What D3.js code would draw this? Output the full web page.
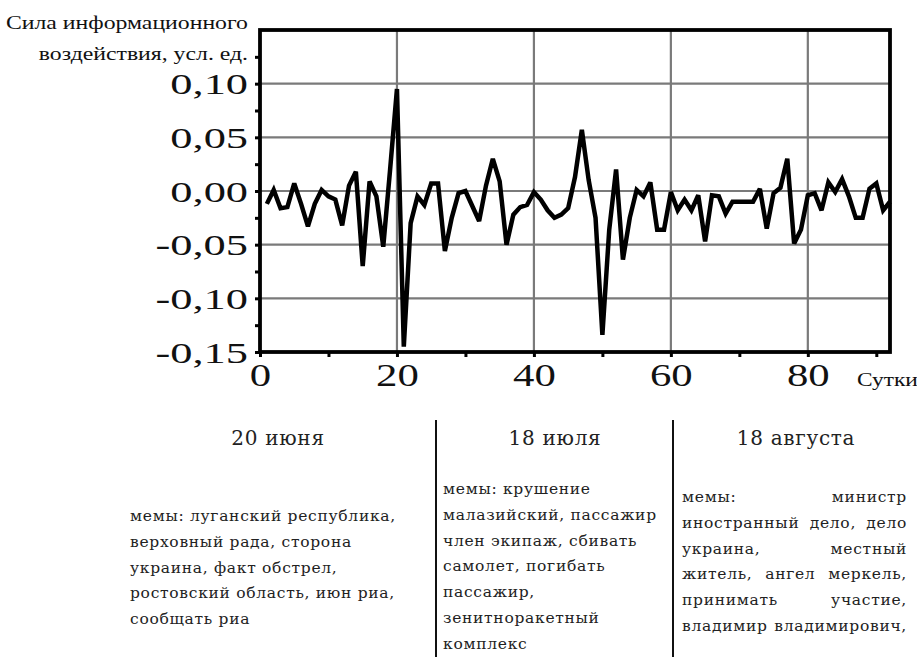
<!DOCTYPE html>
<html>
<head>
<meta charset="utf-8">
<script src="https://cdn.jsdelivr.net/npm/d3@7"></script>
<style>
body { margin: 0; background: #fff; }
svg { display: block; }
.lbl { font-family: "Liberation Serif", "Times New Roman", serif; fill: #111; }
.note { font-family: "DejaVu Serif", serif; fill: #222; letter-spacing: 0.7px; }
</style>
</head>
<body>
<svg width="917" height="657"></svg>
<script>
// information impact by day, days 1..92
var impact = [
  -0.012, 0.001, -0.016, -0.015, 0.007, -0.012, -0.033, -0.012, 0.001, -0.005,
  -0.008, -0.032, 0.005, 0.018, -0.070, 0.009, -0.005, -0.052, 0.020, 0.095,
  -0.145, -0.030, -0.005, -0.013, 0.007, 0.007, -0.056, -0.025, -0.002, 0.000,
  -0.014, -0.028, 0.005, 0.030, 0.009, -0.050, -0.022, -0.015, -0.013, -0.001,
  -0.008, -0.018, -0.025, -0.022, -0.016, 0.013, 0.057, 0.010, -0.025, -0.134,
  -0.036, 0.020, -0.064, -0.025, 0.001, -0.005, 0.008, -0.036, -0.036, -0.001,
  -0.018, -0.008, -0.018, -0.004, -0.047, -0.004, -0.005, -0.021, -0.010, -0.010,
  -0.010, -0.010, 0.002, -0.035, -0.002, 0.003, 0.030, -0.049, -0.036, -0.004,
  -0.002, -0.018, 0.008, -0.001, 0.011, -0.005, -0.025, -0.025, 0.002, 0.007,
  -0.018, -0.010
];
var yTicks = [-0.15, -0.10, -0.05, 0.00, 0.05, 0.10];
var yMinor = [-0.125, -0.075, -0.025, 0.025, 0.075, 0.125];
var xTicks = [0, 20, 40, 60, 80];
var xMinor = [10, 30, 50, 70, 90];

var titleLines = ["Сила информационного", "воздействия, усл. ед."];
var xName = "Сутки";

var heads = ["20 июня", "18 июля", "18 августа"];
var col1 = ["мемы: луганский республика,", "верховный рада, сторона", "украина, факт обстрел,",
            "ростовский область, июн риа,", "сообщать риа"];
var col2 = ["мемы: крушение", "малазийский, пассажир", "член экипаж, сбивать", "самолет, погибать",
            "пассажир,", "зенитноракетный", "комплекс"];
var col3 = ["мемы: министр", "иностранный дело, дело", "украина, местный", "житель, ангел меркель,",
            "принимать участие,", "владимир владимирович,"];

var svg = d3.select("svg");
var pL = 260, pR = 890, pT = 30, pB = 352;

var x = d3.scaleLinear().domain([0, 92]).range([pL, pR]);
var y = d3.scaleLinear().domain([-0.15, 0.15]).range([pB, pT]);

// grid
svg.append("g").selectAll("line")
    .data(xTicks.slice(1))
    .enter().append("line")
    .attr("x1", d => x(d)).attr("x2", d => x(d))
    .attr("y1", pT).attr("y2", pB)
    .attr("stroke", "#7a7a7a").attr("stroke-width", 2.2);
svg.append("g").selectAll("line")
    .data(yTicks.slice(1))
    .enter().append("line")
    .attr("x1", pL).attr("x2", pR)
    .attr("y1", d => y(d)).attr("y2", d => y(d))
    .attr("stroke", "#7a7a7a").attr("stroke-width", 2.2);

// minor ticks
svg.append("g")
    .attr("transform", "translate(" + pL + ",0)")
    .call(d3.axisLeft(y).tickValues(yMinor).tickSize(5).tickFormat(""))
    .call(g => g.select(".domain").remove())
    .selectAll("line").attr("stroke-width", 3);
svg.append("g")
    .attr("transform", "translate(0," + pB + ")")
    .call(d3.axisBottom(x).tickValues(xMinor).tickSize(5).tickFormat(""))
    .call(g => g.select(".domain").remove())
    .selectAll("line").attr("stroke-width", 3);

// major axes
var fmt = d => d3.format(".2f")(d).replace(".", ",").replace("−", "-");
var yAxis = svg.append("g")
    .attr("transform", "translate(" + pL + ",0)")
    .call(d3.axisLeft(y).tickValues(yTicks).tickSize(5).tickFormat(fmt));
yAxis.select(".domain").remove();
yAxis.selectAll("line").attr("stroke-width", 3);
yAxis.selectAll("text")
    .attr("class", "lbl")
    .attr("font-size", 30)
    .attr("x", -12 / 1.48)
    .attr("dy", "0.34em")
    .attr("transform", "scale(1.48,1)");

var xAxis = svg.append("g")
    .attr("transform", "translate(0," + pB + ")")
    .call(d3.axisBottom(x).tickValues(xTicks).tickSize(5).tickFormat(d => d));
xAxis.select(".domain").remove();
xAxis.selectAll("line").attr("stroke-width", 3);
xAxis.selectAll("text")
    .attr("class", "lbl")
    .attr("font-size", 31)
    .attr("y", 12)
    .attr("transform", "scale(1.38,1)");

// frame
svg.append("rect")
    .attr("x", pL).attr("y", pT)
    .attr("width", pR - pL).attr("height", pB - pT)
    .attr("fill", "none").attr("stroke", "#000").attr("stroke-width", 3.8);

// series
var line = d3.line()
    .x((d, i) => x(i + 1))
    .y(d => y(d));
svg.append("path")
    .datum(impact)
    .attr("d", line)
    .attr("fill", "none")
    .attr("stroke", "#000")
    .attr("stroke-width", 4.5)
    .attr("stroke-linejoin", "miter")
    .attr("stroke-miterlimit", 3);

// titles
titleLines.forEach(function(t, i) {
    svg.append("text")
        .attr("class", "lbl")
        .attr("font-size", 19)
        .attr("text-anchor", "end")
        .attr("transform", "translate(248," + (29 + i * 31) + ") scale(1.25,1)")
        .text(t);
});
svg.append("text")
    .attr("class", "lbl")
    .attr("font-size", 18)
    .attr("transform", "translate(857,386) scale(1.3,1)")
    .text(xName);

// notes below
[436, 673].forEach(function(px) {
    svg.append("line")
        .attr("x1", px).attr("x2", px)
        .attr("y1", 420).attr("y2", 657)
        .attr("stroke", "#111").attr("stroke-width", 2);
});

var headX = [278, 555, 796];
heads.forEach(function(h, i) {
    svg.append("text")
        .attr("class", "note")
        .attr("font-size", 20)
        .attr("letter-spacing", 1.2)
        .attr("text-anchor", "middle")
        .attr("x", headX[i]).attr("y", 445)
        .text(h);
});

var lh = 25.8, fs = 15.5;
function plain(lines, x0, y0) {
    lines.forEach(function(t, i) {
        svg.append("text")
            .attr("class", "note")
            .attr("font-size", fs)
            .attr("x", x0).attr("y", y0 + i * lh)
            .text(t);
    });
}
plain(col1, 130, 521);
plain(col2, 443, 494);

// justified column
col3.forEach(function(t, i) {
    var words = t.split(" ");
    var g = svg.append("g");
    var nodes = words.map(w => g.append("text")
        .attr("class", "note")
        .attr("font-size", fs)
        .attr("y", 502 + i * lh)
        .text(w));
    var widths = nodes.map(n => n.node().getComputedTextLength());
    var x0 = 682, x1 = 907;
    var gap = words.length > 1 ? (x1 - x0 - d3.sum(widths)) / (words.length - 1) : 0;
    var cx = x0;
    nodes.forEach(function(n, k) {
        n.attr("x", cx);
        cx += widths[k] + gap;
    });
});
</script>
</body>
</html>
